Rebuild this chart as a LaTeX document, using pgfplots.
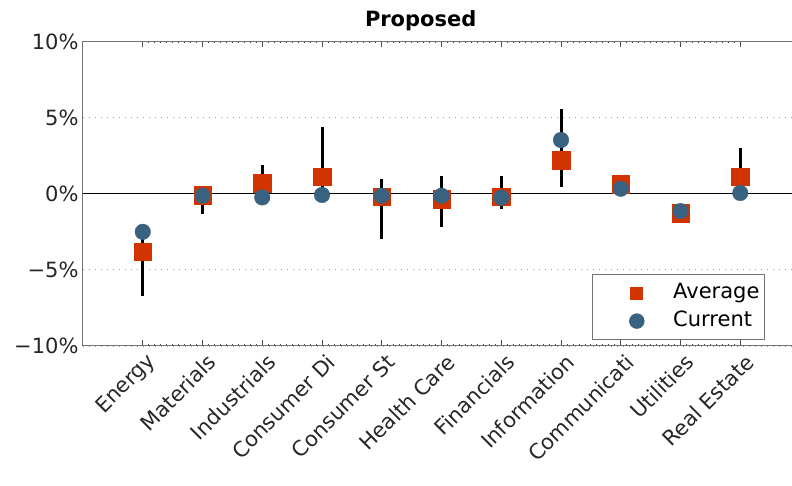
\documentclass[border=0pt]{standalone}
\usepackage{pgfplots}
\pgfplotsset{compat=1.18}
\usepackage{pgfplotstable}
\usepackage{fontspec}
\setmainfont{DejaVu Sans}
\definecolor{avgred}{RGB}{210,52,0}
\definecolor{curblue}{RGB}{57,98,128}

\pgfplotstableread{
x lo hi avg cur
0 -6.7 -2.5 -3.8 -2.5
1 -1.35 0.5 -0.1 -0.13
2 -0.2 1.9 0.7 -0.24
3 0.0 4.4 1.12 -0.08
4 -3.0 1.0 -0.2 -0.13
5 -2.2 1.16 -0.35 -0.13
6 -1.0 1.16 -0.2 -0.26
7 0.46 5.55 2.2 3.53
8 0.33 0.62 0.62 0.33
9 -1.29 -1.14 -1.29 -1.14
10 0.05 3.0 1.12 0.05
}\data

\begin{document}
\begin{tikzpicture}
\useasboundingbox (-83pt,-140pt) rectangle (709pt,346pt);
\begin{axis}[
  at={(0,0)}, anchor=south west,
  scale only axis, width=717pt, height=304.5pt,
  xmin=-1, xmax=11, ymin=-10, ymax=10,
  xtick={0,...,10},
  xticklabels={Energy, Materials, Industrials, Consumer Di, Consumer St, Health Care, Financials, Information, Communicati, Utilities, Real Estate},
  minor x tick num=9,
  major tick length=6pt, minor tick length=2pt,
  ytick={-10,-5,0,5,10},
  yticklabels={−10\%, −5\%, 0\%, 5\%, 10\%},
  ytick style={draw=none},
  ymajorgrids,
  major grid style={gray!80, line width=0.8pt, dash pattern=on 1.2pt off 4.8pt},
  extra y ticks={0}, extra y tick labels={},
  extra y tick style={grid=major, major grid style={solid, black, line width=1pt}},
  axis line style={black!55, line width=1pt},
  every tick/.style={black!70, line width=0.8pt},
  tick label style={font=\fontsize{21}{23}\selectfont, text=black!85},
  yticklabel style={xshift=-1pt},
  xticklabel style={xshift=12pt, yshift=-10pt, rotate=45, anchor=east},
  title={\bfseries Proposed},
  title style={at={(axis description cs:0.471,1.05)}, anchor=center, font=\fontsize{21}{23}\selectfont},
  legend style={at={(0.951,0.0197)}, anchor=south east, draw=black!55, line width=0.8pt,
    font=\fontsize{21}{23}\selectfont, inner xsep=0pt, inner ysep=8.5pt,
    nodes={inner sep=0pt, text height=15pt, text depth=5pt}, row sep=8pt},
  legend cell align=left,
  legend image code/.code={\path (0pt,0pt) (80pt,0pt); \draw[#1] plot coordinates {(44pt,0pt)};},
]
\addplot[draw=none, forget plot, mark=none,
  error bars/.cd, y dir=plus, y explicit, error mark=none,
  error bar style={draw=black, line width=3pt}]
  table[x=x, y=lo, y error expr=\thisrow{hi}-\thisrow{lo}] {\data};
\addplot[only marks, mark=square*, mark size=8.8pt, mark options={draw=avgred, fill=avgred},
  legend image post style={mark size=6pt}]
  table[x=x, y=avg] {\data};
\addlegendentry{Average\hspace*{5pt}}
\addplot[only marks, mark=*, mark size=7.8pt, mark options={draw=curblue, fill=curblue},
  legend image post style={mark size=7.3pt}]
  table[x=x, y=cur] {\data};
\addlegendentry{Current}
\end{axis}
\end{tikzpicture}
\end{document}
